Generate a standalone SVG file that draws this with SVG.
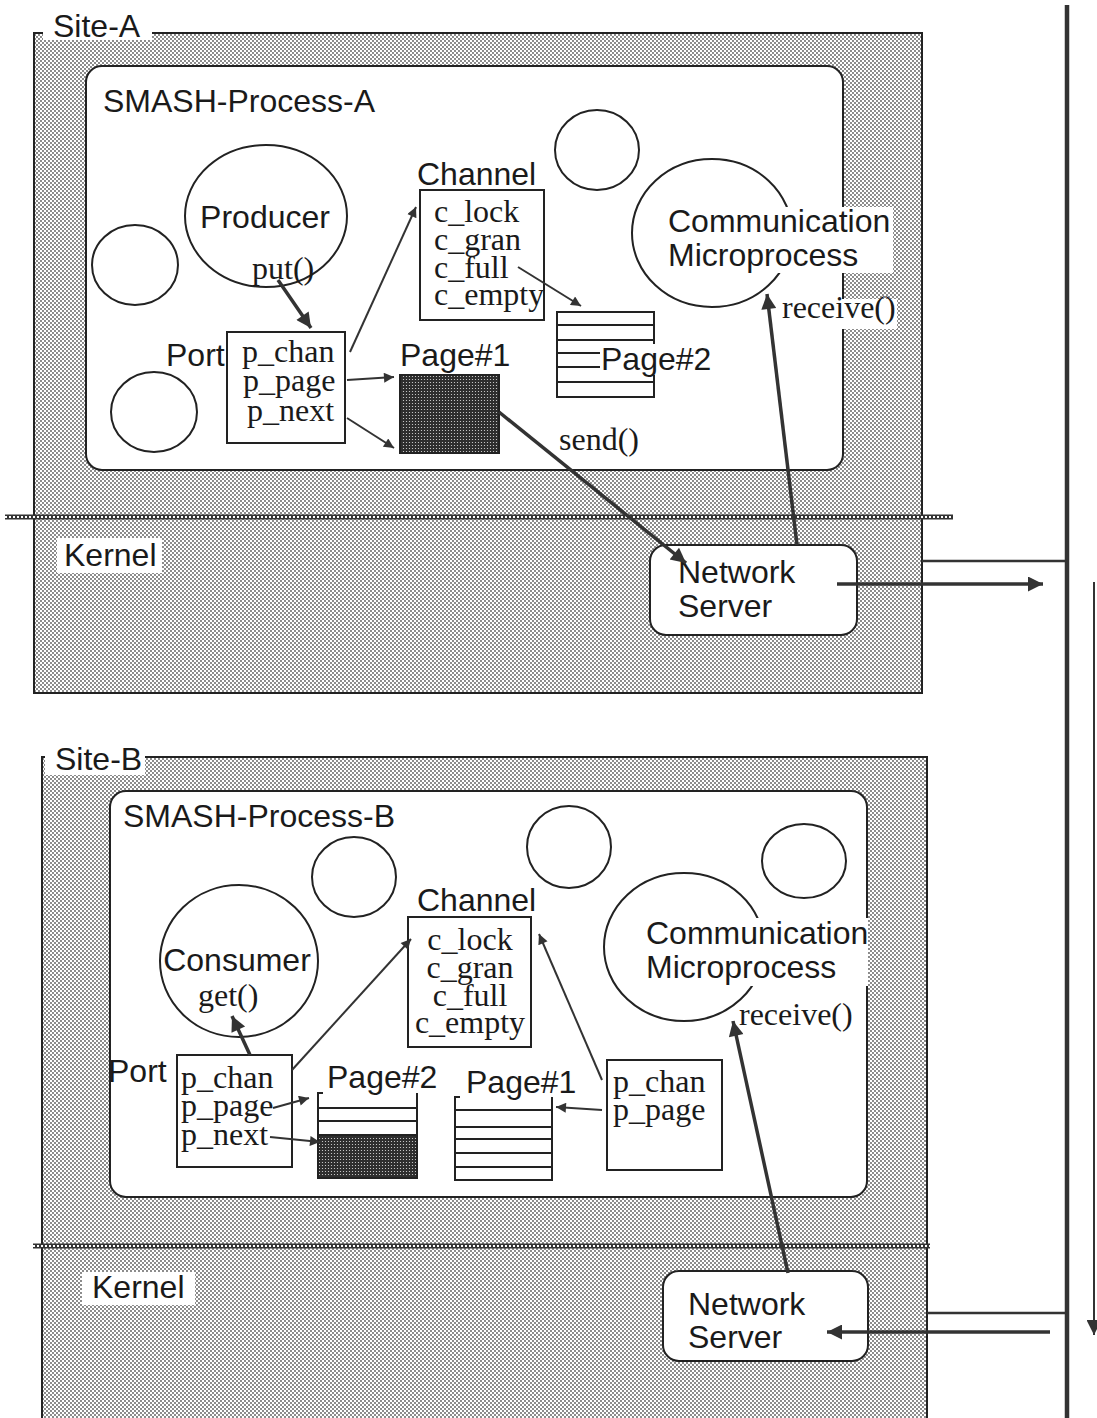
<svg xmlns="http://www.w3.org/2000/svg" width="1097" height="1418" viewBox="0 0 1097 1418">
<defs>
<pattern id="dots" width="4" height="4" patternUnits="userSpaceOnUse">
<rect width="4" height="4" fill="#fff"/>
<circle cx="1" cy="1" r="0.9" fill="#555"/>
<circle cx="3" cy="3" r="0.9" fill="#555"/>
</pattern>
<pattern id="dark" width="3" height="3" patternUnits="userSpaceOnUse">
<rect width="3" height="3" fill="#2e2e2e"/>
<circle cx="1.5" cy="1.5" r="0.6" fill="#ddd"/>
</pattern>
<marker id="ah" viewBox="0 0 10 10" refX="10" refY="5" markerUnits="userSpaceOnUse" markerWidth="15" markerHeight="10" orient="auto">
<path d="M0,0 L10,5 L0,10 z" fill="#333"/>
</marker>
<marker id="ahb" viewBox="0 0 10 10" refX="10" refY="5" markerUnits="userSpaceOnUse" markerWidth="22" markerHeight="15" orient="auto">
<path d="M0,0 L10,5 L0,10 z" fill="#333"/>
</marker>
<style>
.site{fill:url(#dots);stroke:#222;stroke-width:2}
.proc{fill:#fff;stroke:#222;stroke-width:2}
.ell{fill:none;stroke:#222;stroke-width:2}
.box{fill:#fff;stroke:#222;stroke-width:2}
.bg{fill:#fff}
.h{font-family:"Liberation Sans",Arial,sans-serif;font-size:32px;fill:#1a1a1a}
.t{font-family:"Liberation Serif","Times New Roman",serif;font-size:32px;fill:#1a1a1a}
.kl1{stroke:#333;stroke-width:5}
.kl2{stroke:#fff;stroke-width:2;stroke-dasharray:2 2}
.pl{stroke:#222;stroke-width:2;fill:none}
.c{stroke:#333;stroke-width:2;fill:none;marker-end:url(#ah)}
.cb{stroke:#333;stroke-width:3.5;fill:none;marker-end:url(#ahb)}
.ln{stroke:#333;stroke-width:2.5;fill:none}
</style>
</defs>

<!-- ================= SITE A ================= -->
<g id="site-a">
<rect class="site" x="34" y="33" width="888" height="660"/>
<rect class="bg" x="43" y="8" width="109" height="32"/>
<text class="h" x="53" y="37">Site-A</text>
</g>
<g id="process-a">
<rect class="proc" x="86" y="66" width="757" height="404" rx="16"/>
<text class="h" x="103" y="112">SMASH-Process-A</text>
</g>
<g id="kernel-line-a">
<line class="kl1" x1="5" y1="517" x2="953" y2="517"/>
<line class="kl2" x1="5" y1="517" x2="953" y2="517"/>
</g>
<g id="kernel-a">
<rect class="bg" x="57" y="538" width="105" height="35"/>
<text class="h" x="64" y="566">Kernel</text>
</g>
<g id="circle-a1"><ellipse class="ell" cx="135" cy="265" rx="43" ry="40"/></g>
<g id="circle-a2"><ellipse class="ell" cx="154" cy="412" rx="43" ry="40"/></g>
<g id="circle-a3"><ellipse class="ell" cx="597" cy="150" rx="42" ry="40"/></g>
<g id="producer">
<ellipse class="ell" cx="266" cy="216" rx="81" ry="71"/>
<text class="h" x="265" y="228" text-anchor="middle">Producer</text>
<text class="t" x="252" y="279">put()</text>
</g>
<g id="comm-a">
<ellipse class="ell" cx="712" cy="233" rx="80" ry="74"/>
<rect class="bg" x="667" y="207" width="226" height="66"/>
<text class="h" x="668" y="232">Communication</text>
<text class="h" x="668" y="266">Microprocess</text>
</g>
<g id="port-a">
<text class="h" x="166" y="366">Port</text>
<rect class="box" x="227" y="332" width="118" height="111"/>
<text class="t" x="242" y="362">p_chan</text>
<text class="t" x="243" y="391">p_page</text>
<text class="t" x="247" y="421">p_next</text>
</g>
<g id="channel-a">
<text class="h" x="417" y="185">Channel</text>
<rect class="box" x="420" y="190" width="124" height="130"/>
<text class="t" x="434" y="222">c_lock</text>
<text class="t" x="434" y="250">c_gran</text>
<text class="t" x="434" y="278">c_full</text>
<text class="t" x="434" y="305">c_empty</text>
</g>
<g id="page1-a">
<text class="h" x="400" y="366">Page#1</text>
<rect x="400" y="375" width="99" height="78" fill="url(#dark)" stroke="#222" stroke-width="2"/>
</g>
<g id="page2-a">
<rect class="box" x="557" y="312" width="97" height="85"/>
<line class="pl" x1="557" y1="325" x2="654" y2="325"/>
<line class="pl" x1="557" y1="340" x2="654" y2="340"/>
<line class="pl" x1="557" y1="353" x2="654" y2="353"/>
<line class="pl" x1="557" y1="367" x2="654" y2="367"/>
<line class="pl" x1="557" y1="382" x2="654" y2="382"/>
<rect class="bg" x="600" y="344" width="112" height="31"/>
<text class="h" x="601" y="370">Page#2</text>
</g>
<g id="netserver-a">
<rect class="proc" x="650" y="545" width="207" height="90" rx="16"/>
<text class="h" x="678" y="583">Network</text>
<text class="h" x="678" y="617">Server</text>
</g>
<g id="receive-a-label">
<rect class="bg" x="781" y="299" width="116" height="30"/>
<text class="t" x="782" y="318">receive()</text>
</g>
<g id="send-label"><text class="t" x="559" y="450">send()</text></g>

<!-- ================= SITE B ================= -->
<g id="site-b">
<rect class="site" x="42" y="757" width="885" height="680"/>
<rect class="bg" x="45" y="742" width="100" height="33"/>
<text class="h" x="55" y="770">Site-B</text>
</g>
<g id="process-b">
<rect class="proc" x="110" y="791" width="757" height="406" rx="16"/>
<text class="h" x="123" y="827">SMASH-Process-B</text>
</g>
<g id="kernel-line-b">
<line class="kl1" x1="33" y1="1246" x2="930" y2="1246"/>
<line class="kl2" x1="33" y1="1246" x2="930" y2="1246"/>
</g>
<g id="kernel-b">
<rect class="bg" x="82" y="1272" width="113" height="33"/>
<text class="h" x="92" y="1298">Kernel</text>
</g>
<g id="circle-b1"><ellipse class="ell" cx="354" cy="877" rx="42" ry="40"/></g>
<g id="circle-b2"><ellipse class="ell" cx="569" cy="847" rx="42" ry="41"/></g>
<g id="circle-b3"><ellipse class="ell" cx="804" cy="861" rx="42" ry="37"/></g>
<g id="consumer">
<ellipse class="ell" cx="239" cy="961" rx="79" ry="76"/>
<text class="h" x="237" y="971" text-anchor="middle">Consumer</text>
<text class="t" x="198" y="1006">get()</text>
</g>
<g id="comm-b">
<ellipse class="ell" cx="684" cy="947" rx="80" ry="74"/>
<rect class="bg" x="645" y="918" width="223" height="68"/>
<text class="h" x="646" y="944">Communication</text>
<text class="h" x="646" y="978">Microprocess</text>
</g>
<g id="port-b">
<rect class="box" x="177" y="1055" width="115" height="112"/>
<text class="h" x="108" y="1082">Port</text>
<text class="t" x="181" y="1088">p_chan</text>
<text class="t" x="181" y="1116">p_page</text>
<text class="t" x="181" y="1145">p_next</text>
</g>
<g id="channel-b">
<text class="h" x="417" y="911">Channel</text>
<rect class="box" x="408" y="917" width="123" height="130"/>
<text class="t" x="470" y="950" text-anchor="middle">c_lock</text>
<text class="t" x="470" y="978" text-anchor="middle">c_gran</text>
<text class="t" x="470" y="1006" text-anchor="middle">c_full</text>
<text class="t" x="470" y="1033" text-anchor="middle">c_empty</text>
</g>
<g id="page2-b">
<text class="h" x="327" y="1088">Page#2</text>
<rect x="318" y="1135" width="99" height="43" fill="url(#dark)"/>
<path class="pl" d="M323,1093 H318 V1178 H417 V1093"/>
<line class="pl" x1="318" y1="1108" x2="417" y2="1108"/>
<line class="pl" x1="318" y1="1121" x2="417" y2="1121"/>
<line class="pl" x1="318" y1="1135" x2="417" y2="1135"/>
</g>
<g id="page1-b">
<text class="h" x="466" y="1093">Page#1</text>
<path class="pl" d="M460,1097 H455 V1180 H552 V1097"/>
<line class="pl" x1="455" y1="1110" x2="552" y2="1110"/>
<line class="pl" x1="455" y1="1127" x2="552" y2="1127"/>
<line class="pl" x1="455" y1="1139" x2="552" y2="1139"/>
<line class="pl" x1="455" y1="1153" x2="552" y2="1153"/>
<line class="pl" x1="455" y1="1167" x2="552" y2="1167"/>
</g>
<g id="port-b2">
<rect class="box" x="607" y="1060" width="115" height="110"/>
<text class="t" x="613" y="1092">p_chan</text>
<text class="t" x="613" y="1120">p_page</text>
</g>
<g id="netserver-b">
<rect class="proc" x="663" y="1271" width="205" height="90" rx="16"/>
<text class="h" x="688" y="1315">Network</text>
<text class="h" x="688" y="1348">Server</text>
</g>
<g id="receive-b-label"><text class="t" x="739" y="1025">receive()</text></g>

<!-- ================= CONNECTORS ================= -->
<g id="connectors">
<line class="cb" x1="278" y1="280" x2="311" y2="328"/>
<line class="c" x1="350" y1="352" x2="416" y2="207"/>
<line class="c" x1="347" y1="380" x2="394" y2="377"/>
<line class="c" x1="347" y1="418" x2="394" y2="448"/>
<line class="c" x1="518" y1="267" x2="581" y2="306"/>
<line class="cb" x1="499" y1="412" x2="686" y2="563"/>
<line class="cb" x1="797" y1="545" x2="767" y2="294"/>
<line class="ln" x1="922" y1="561" x2="1067" y2="561"/>
<line class="cb" x1="837" y1="584" x2="1043" y2="584"/>
<line x1="1067" y1="5" x2="1067" y2="1418" stroke="#333" stroke-width="4.5"/>
<line class="c" x1="1094" y1="582" x2="1094" y2="1335" style="marker-end:url(#ahb)"/>
<line class="ln" x1="927" y1="1313" x2="1067" y2="1313"/>
<line class="cb" x1="1050" y1="1332" x2="827" y2="1332"/>
<line class="cb" x1="788" y1="1273" x2="733" y2="1021"/>
<line class="cb" x1="250" y1="1055" x2="232" y2="1016"/>
<line class="c" x1="292" y1="1070" x2="411" y2="939"/>
<line class="c" x1="273" y1="1108" x2="309" y2="1098"/>
<line class="c" x1="270" y1="1137" x2="320" y2="1142"/>
<line class="c" x1="602" y1="1080" x2="539" y2="934"/>
<line class="c" x1="602" y1="1110" x2="556" y2="1107"/>
</g>
</svg>
